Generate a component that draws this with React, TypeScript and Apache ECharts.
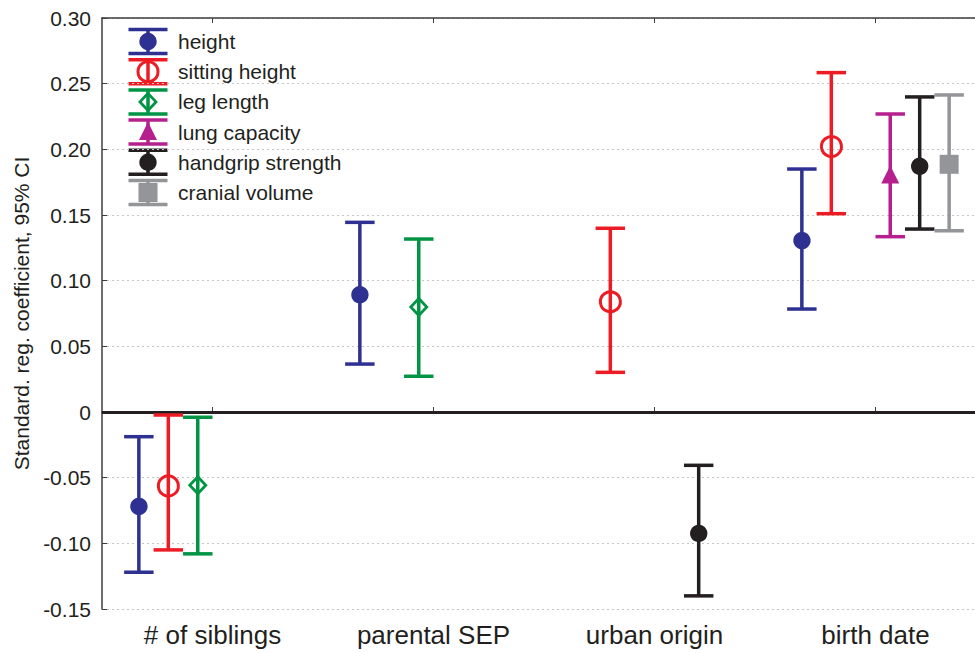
import React, { useEffect, useRef } from "react";
import * as echarts from "echarts";

const categories = ["# of siblings", "parental SEP", "urban origin", "birth date"];
const seriesNames = ["height", "sitting height", "leg length", "lung capacity", "handgrip strength", "cranial volume"];

const heightMean = [-0.071, 0.09, null, 0.1315];
const heightLow = [-0.122, 0.0365, null, 0.0784];
const heightHigh = [-0.0188, 0.1444, null, 0.185];

const sittingMean = [-0.0556, null, 0.0848, 0.2033];
const sittingLow = [-0.105, null, 0.0302, 0.151];
const sittingHigh = [-0.0023, null, 0.1399, 0.2584];

const legMean = [-0.0558, 0.08, null, null];
const legLow = [-0.108, 0.0272, null, null];
const legHigh = [-0.004, 0.1317, null, null];

const lungMean = [null, null, null, 0.18];
const lungLow = [null, null, null, 0.1335];
const lungHigh = [null, null, null, 0.2269];

const gripMean = [null, null, -0.0919, 0.1876];
const gripLow = [null, null, -0.14, 0.1393];
const gripHigh = [null, null, -0.0406, 0.2399];

const cranialMean = [null, null, null, 0.1886];
const cranialLow = [null, null, null, 0.138];
const cranialHigh = [null, null, null, 0.2414];

const yTicks = { min: -0.15, max: 0.3, interval: 0.05 };

const means = [heightMean, sittingMean, legMean, lungMean, gripMean, cranialMean];
const lows = [heightLow, sittingLow, legLow, lungLow, gripLow, cranialLow];
const highs = [heightHigh, sittingHigh, legHigh, lungHigh, gripHigh, cranialHigh];

const COLORS = ["#2E3192", "#ED1C24", "#009444", "#B5208E", "#231F20", "#939598"];
const MARKERS = ["dot", "ring", "diamond", "triangle", "dot", "square"];
const TEXT = "#231F20";
const FONT = "'Liberation Sans', Arial, Helvetica, sans-serif";
const SLOT = 0.1333;
const LW = 3.5;
const CHART_W = 1000;
const CHART_H = 653;

function markerEl(kind: string, cx: number, cy: number, color: string): any {
  if (kind === "dot") {
    return { type: "circle", shape: { cx, cy, r: 8.7 }, style: { fill: color, stroke: null }, z2: 10 };
  }
  if (kind === "ring") {
    return { type: "circle", shape: { cx, cy, r: 10 }, style: { fill: "none", stroke: color, lineWidth: 3 }, z2: 10 };
  }
  if (kind === "diamond") {
    return {
      type: "polygon",
      shape: { points: [[cx, cy - 8.5], [cx + 8, cy], [cx, cy + 8.5], [cx - 8, cy]] },
      style: { fill: "none", stroke: color, lineWidth: 2.8 },
      z2: 10,
    };
  }
  if (kind === "triangle") {
    return {
      type: "polygon",
      shape: { points: [[cx, cy - 10], [cx + 9, cy + 8], [cx - 9, cy + 8]] },
      style: { fill: color, stroke: null },
      z2: 10,
    };
  }
  return { type: "rect", shape: { x: cx - 9.5, y: cy - 9.5, width: 19, height: 19 }, style: { fill: color, stroke: null }, z2: 10 };
}

export default function App() {
  const ref = useRef<HTMLDivElement>(null);

  useEffect(() => {
    if (!ref.current) return;
    const chart = echarts.init(ref.current, null, { renderer: "svg", width: CHART_W, height: CHART_H });

    const series: any[] = seriesNames.map((name, s) => {
      const data: any[] = [];
      categories.forEach((_, c) => {
        if (means[s][c] != null) data.push([c, lows[s][c], means[s][c], highs[s][c]]);
      });
      const color = COLORS[s];
      const item: any = {
        type: "custom",
        name,
        data,
        encode: { x: 0, y: [1, 2, 3] },
        renderItem: (params: any, api: any) => {
          const c = api.value(0);
          const lo = api.coord([c, api.value(1)]);
          const mid = api.coord([c, api.value(2)]);
          const hi = api.coord([c, api.value(3)]);
          const band = api.size([1, 0])[0];
          const slot = band * SLOT;
          const x = lo[0] + (s - 2.5) * slot;
          const half = slot / 2;
          return {
            type: "group",
            children: [
              { type: "line", shape: { x1: x, y1: hi[1], x2: x, y2: lo[1] }, style: { stroke: color, lineWidth: LW } },
              { type: "line", shape: { x1: x - half, y1: hi[1], x2: x + half, y2: hi[1] }, style: { stroke: color, lineWidth: LW } },
              { type: "line", shape: { x1: x - half, y1: lo[1], x2: x + half, y2: lo[1] }, style: { stroke: color, lineWidth: LW } },
              markerEl(MARKERS[s], x, mid[1], color),
            ],
          };
        },
      };
      if (s === 0) {
        item.markLine = {
          silent: true,
          symbol: "none",
          label: { show: false },
          lineStyle: { color: TEXT, width: 3, type: "solid" },
          data: [{ yAxis: 0 }],
          z: 1,
        };
      }
      return item;
    });

    const legendChildren: any[] = [];
    seriesNames.forEach((name, s) => {
      const cy = 41.5 + s * 30.2;
      const cx = 148;
      const color = COLORS[s];
      legendChildren.push(
        { type: "line", shape: { x1: cx, y1: cy - 12, x2: cx, y2: cy + 12 }, style: { stroke: color, lineWidth: LW } },
        { type: "line", shape: { x1: cx - 19.5, y1: cy - 12, x2: cx + 19.5, y2: cy - 12 }, style: { stroke: color, lineWidth: LW } },
        { type: "line", shape: { x1: cx - 19.5, y1: cy + 12, x2: cx + 19.5, y2: cy + 12 }, style: { stroke: color, lineWidth: LW } },
        markerEl(MARKERS[s], cx, cy, color),
        {
          type: "text",
          x: 178,
          y: cy,
          style: { text: name, fill: TEXT, font: `21px ${FONT}`, textVerticalAlign: "middle", verticalAlign: "middle" },
        }
      );
    });

    chart.setOption({
      animation: false,
      backgroundColor: "#ffffff",
      textStyle: { fontFamily: FONT },
      grid: { left: 102, right: 14, top: 18, bottom: 44, outerBoundsMode: "none", containLabel: false },
      xAxis: [
        {
          type: "category",
          data: categories,
          position: "bottom",
          axisLine: { show: true, lineStyle: { color: "#3d3d3d", width: 1.5 } },
          axisTick: { show: true, inside: true, alignWithLabel: true, length: 5, lineStyle: { color: "#3d3d3d" } },
          axisLabel: { color: TEXT, fontSize: 26, margin: 13, fontFamily: FONT },
          splitLine: { show: false },
        },
        {
          type: "category",
          data: categories,
          position: "top",
          axisLine: { show: true, lineStyle: { color: "#3d3d3d", width: 1.5 } },
          axisTick: { show: true, inside: true, alignWithLabel: true, length: 5, lineStyle: { color: "#3d3d3d" } },
          axisLabel: { show: false },
          splitLine: { show: false },
        },
      ],
      yAxis: {
        type: "value",
        min: yTicks.min,
        max: yTicks.max,
        interval: yTicks.interval,
        name: "Standard. reg. coefficient, 95% CI",
        nameLocation: "middle",
        nameGap: 70,
        nameTextStyle: { color: TEXT, fontSize: 21, fontFamily: FONT },
        axisLine: { show: true, lineStyle: { color: "#3d3d3d", width: 1.5 } },
        axisTick: { show: true, inside: true, length: 5, lineStyle: { color: "#3d3d3d" } },
        axisLabel: {
          color: TEXT,
          fontSize: 21,
          margin: 11,
          fontFamily: FONT,
          formatter: (v: number) => (Math.abs(v) < 1e-9 ? "0" : v.toFixed(2)),
        },
        splitLine: { show: true, lineStyle: { color: "#c4c4c4", width: 1, type: [2, 3] } },
      },
      series,
      graphic: [{ type: "group", children: legendChildren, z: 100 }],
    });

    return () => chart.dispose();
  }, []);

  return (
    <div style={{ position: "fixed", left: 0, top: 0, width: 975, height: 653, overflow: "hidden", background: "#fff" }}>
      <div ref={ref} style={{ width: CHART_W, height: CHART_H }} />
    </div>
  );
}
